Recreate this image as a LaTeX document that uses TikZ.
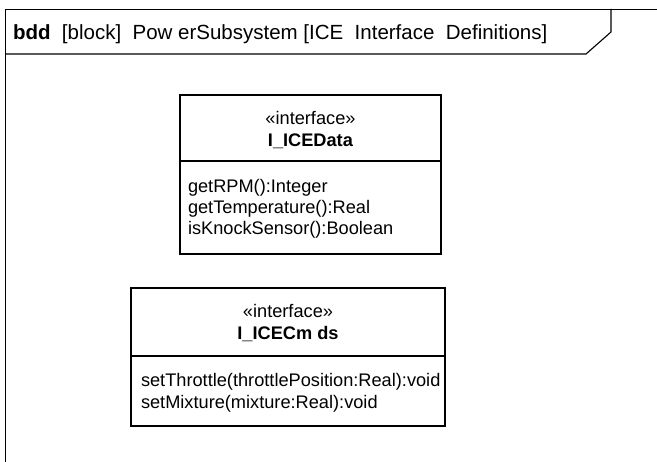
\documentclass[tikz,border=0pt]{standalone}
\usepackage{fontspec}
\setmainfont{Liberation Sans}
\begin{document}
\begin{tikzpicture}[x=1pt,y=-1pt,
  every node/.style={inner sep=0pt,outer sep=0pt,font=\fontsize{18.2}{22}\selectfont},
  box/.style={draw,line width=1.1pt,rectangle,anchor=north west},
  txt/.style={anchor=base west},
  ctr/.style={anchor=base},
  hdr/.style={anchor=base west,font=\fontsize{20.5}{24}\selectfont}]
\useasboundingbox (0,0) rectangle (657,462);
\fill[white] (0,0) rectangle (657,462);
% frame
\coordinate (ftr) at (657,9);
\coordinate (ftl) at (5,9);
\coordinate (fbl) at (5,462);
\draw[line width=0.9pt] (ftr) -- (ftl) -- (fbl);
\coordinate (h1) at (5,54);
\coordinate (h2) at (586,54);
\coordinate (h3) at (611,32);
\coordinate (h4) at (611,9);
\draw[line width=1.1pt] (h1) -- (h2) -- (h3) -- (h4);
\node[hdr] (title) at (13,39.5) {\textbf{bdd}\ \ [block]\ \ Pow erSubsystem [ICE\ \ Interface\ \ Definitions]};
% box 1
\node[box,minimum width=261pt,minimum height=159pt] (d) at (180,95) {};
\draw[line width=1.1pt] (d.west |- 0,161) -- (d.east |- 0,161);
\node[ctr] (d1) at (d.north |- 0,124.5) {«interface»};
\node[ctr] (d2) at (d.north |- 0,146.5) {\textbf{I\_ICEData}};
\node[txt] (d3) at (188,192.5) {getRPM():Integer};
\node[txt] (d4) at (188,213.5) {getTemperature():Real};
\node[txt] (d5) at (188,234.5) {isKnockSensor():Boolean};
% box 2
\node[box,minimum width=314pt,minimum height=138pt] (c) at (131,288) {};
\draw[line width=1.1pt] (c.west |- 0,356) -- (c.east |- 0,356);
\node[ctr] (c1) at (c.north |- 0,317.5) {«interface»};
\node[ctr] (c2) at (c.north |- 0,339.5) {\textbf{I\_ICECm ds}};
\node[txt] (c3) at (141,386.5) {setThrottle(throttlePosition:Real):void};
\node[txt] (c4) at (141,408.5) {setMixture(mixture:Real):void};
\end{tikzpicture}
\end{document}
